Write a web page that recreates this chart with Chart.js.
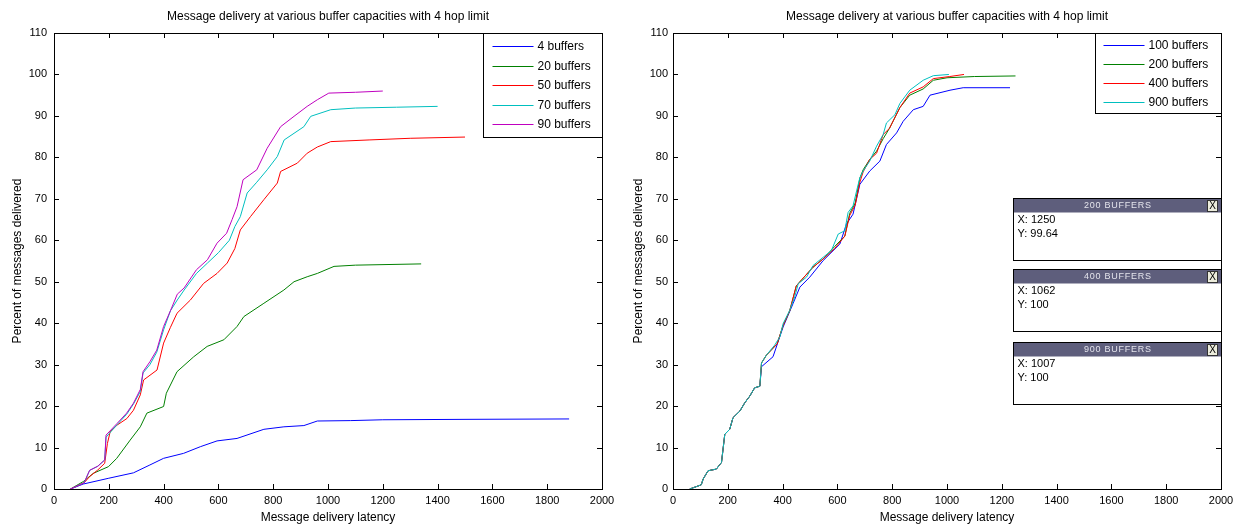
<!DOCTYPE html>
<html>
<head>
<meta charset="utf-8">
<script src="https://cdn.jsdelivr.net/npm/chart.js@4.4.1/dist/chart.umd.min.js"></script>
<style>
  body { margin: 0; background: #fff; }
  .panel { position: absolute; top: 0; width: 624px; height: 528px; }
</style>
</head>
<body>
<div class="panel" style="left:0"><canvas id="left" width="624" height="528"></canvas></div>
<div class="panel" style="left:624px"><canvas id="right" width="624" height="528"></canvas></div>
<script>
const chartTitle = 'Message delivery at various buffer capacities with 4 hop limit';
const xTitle = 'Message delivery latency';
const yTitle = 'Percent of messages delivered';
const xTicks = [0, 200, 400, 600, 800, 1000, 1200, 1400, 1600, 1800, 2000];
const yTicks = [0, 10, 20, 30, 40, 50, 60, 70, 80, 90, 100, 110];

// left panel: 4 / 20 / 50 / 70 / 90 buffers
const leftLabels = ['4 buffers', '20 buffers', '50 buffers', '70 buffers', '90 buffers'];
const leftColors = ['#0000ff', '#008000', '#ff0000', '#00bfbf', '#bf00bf'];

const lat4 = [60, 107, 200, 290, 350, 400, 473, 534, 595, 668, 766, 839, 912, 961, 1083, 1200, 1500, 1880];
const pct4 = [0, 1.2, 2.6, 3.9, 5.8, 7.4, 8.6, 10.2, 11.6, 12.2, 14.4, 15, 15.3, 16.4, 16.5, 16.7, 16.8, 16.9];

const lat20 = [60, 107, 144, 199, 229, 278, 315, 339, 400, 410, 449, 510, 559, 620, 668, 693, 766, 839, 876, 924, 961, 1022, 1100, 1340];
const pct20 = [0, 1.8, 3.8, 5.4, 7.4, 11.8, 15, 18.3, 19.9, 23.1, 28.3, 31.9, 34.4, 36, 39.2, 41.6, 44.8, 48, 50, 51.2, 52, 53.7, 54, 54.3];

const lat50 = [60, 110, 130, 160, 185, 195, 205, 230, 266, 290, 315, 327, 376, 400, 425, 449, 498, 546, 595, 632, 660, 680, 717, 766, 815, 827, 888, 924, 961, 1010, 1150, 1300, 1500];
const pct50 = [0, 1.5, 3, 4.6, 6.2, 11, 13.8, 15.4, 17, 19, 22.7, 26.3, 28.7, 35.2, 39, 42.4, 45.6, 49.6, 52, 54.5, 58, 62.5, 65.7, 69.8, 73.8, 76.6, 78.6, 81, 82.5, 83.8, 84.2, 84.6, 84.9];

const lat70 = [60, 110, 130, 160, 185, 190, 230, 265, 290, 315, 325, 350, 375, 400, 425, 450, 475, 520, 560, 600, 640, 660, 680, 705, 740, 778, 815, 840, 912, 937, 1010, 1100, 1250, 1400];
const pct70 = [0, 1.5, 4.5, 5.5, 7, 12.5, 15.5, 18, 20.5, 23.5, 28, 30, 33, 38.4, 43, 45.6, 48, 52, 54.5, 57, 60, 63.3, 65.7, 71.4, 74, 77, 80.2, 84.2, 87.4, 89.9, 91.5, 91.9, 92.1, 92.3];

const lat90 = [60, 110, 130, 160, 185, 190, 230, 265, 290, 315, 325, 350, 375, 400, 425, 450, 475, 520, 560, 595, 630, 650, 668, 690, 740, 778, 827, 876, 924, 961, 1003, 1100, 1200];
const pct90 = [0, 1.5, 4.5, 5.5, 7, 13, 15.8, 18.3, 20.7, 24, 28.3, 30.7, 33.5, 39.2, 43, 47, 48.5, 52.9, 55.3, 59.3, 61.7, 65, 68.1, 74.6, 77, 82.2, 87.4, 89.9, 92.3, 93.9, 95.5, 95.7, 96];

// right panel: 100 / 200 / 400 / 900 buffers
const rightLabels = ['100 buffers', '200 buffers', '400 buffers', '900 buffers'];
const rightColors = ['#0000ff', '#008000', '#ff0000', '#00bfbf'];

const lat100 = [61, 103, 110, 128, 158, 177, 189, 207, 219, 244, 262, 280, 298, 317, 323, 365, 402, 438, 463, 499, 548, 609, 633, 657, 682, 718, 755, 779, 816, 840, 877, 913, 938, 1011, 1059, 1230];
const pct100 = [0, 1, 2.4, 4.4, 4.8, 6.4, 13.2, 14.4, 17.2, 18.8, 20.8, 22.4, 24.4, 24.8, 29.5, 31.9, 39.1, 44.7, 48.7, 51.1, 55.1, 59.1, 63.9, 66.3, 73.5, 76.7, 79.1, 83.1, 85.9, 88.7, 91.5, 92.3, 95, 96.2, 96.8, 96.8];

const lat200 = [61, 103, 110, 128, 158, 177, 189, 207, 219, 244, 262, 280, 298, 317, 323, 341, 380, 402, 426, 450, 470, 511, 548, 590, 627, 645, 665, 682, 694, 718, 743, 767, 790, 828, 864, 913, 950, 1000, 1100, 1250];
const pct200 = [0, 1, 2.4, 4.4, 4.8, 6.4, 13.2, 14.4, 17.2, 18.8, 20.8, 22.4, 24.4, 24.8, 30.4, 32.3, 35, 39.5, 43, 49, 50.5, 53.5, 55.5, 58.5, 61, 66.5, 69, 75, 77, 79.5, 81.5, 84.5, 87, 92, 95, 96.5, 98.6, 99.2, 99.5, 99.64];

const lat400 = [61, 103, 110, 128, 158, 177, 189, 207, 219, 244, 262, 280, 298, 317, 323, 341, 380, 402, 426, 450, 470, 511, 548, 590, 627, 645, 665, 682, 694, 718, 743, 767, 790, 828, 864, 913, 950, 1010, 1062];
const pct400 = [0, 1, 2.4, 4.4, 4.8, 6.4, 13.2, 14.4, 17.2, 18.8, 20.8, 22.4, 24.4, 24.8, 30.4, 32.3, 35, 39.5, 43, 49, 50.5, 53.5, 55.5, 58, 61, 66, 68.5, 74, 76.5, 79.5, 81, 85.5, 87, 92, 95.5, 97, 99, 99.5, 100];

const lat900 = [61, 103, 110, 128, 158, 177, 189, 207, 219, 244, 262, 280, 298, 317, 323, 341, 371, 390, 402, 426, 444, 457, 487, 511, 548, 578, 603, 627, 639, 657, 670, 682, 694, 718, 743, 767, 779, 810, 828, 864, 913, 950, 1007];
const pct900 = [0, 1, 2.4, 4.4, 4.8, 6.4, 13.2, 14.4, 17.2, 18.8, 20.8, 22.4, 24.4, 24.8, 30.4, 32.3, 34.7, 36.7, 39.9, 43.1, 46.3, 49.5, 51.1, 53.9, 55.9, 57.5, 61.5, 62.3, 66.7, 68.3, 71.9, 75.1, 76.7, 79.1, 82.7, 85.5, 88.3, 90.3, 93, 96.2, 98.6, 99.7, 100];

const FONT = 'Liberation Sans, Arial, Helvetica, sans-serif';

function pts(xs, ys) {
    return xs.map((v, i) => ({ x: v, y: ys[i] }));
}

function series(labels, colors, lats, pcts) {
    return labels.map((label, i) => ({
        label: label,
        data: pts(lats[i], pcts[i]),
        borderColor: colors[i],
        backgroundColor: colors[i],
        borderWidth: 1,
        pointRadius: 0,
        tension: 0,
        fill: false,
        order: -i   // later series drawn on top, like plot() with hold on
    }));
}

// title centred over the axes box, MATLAB style box with inward ticks
const matlabAxes = {
    id: 'matlabAxes',
    afterDatasetsDraw(chart) {
        const { ctx, chartArea: a, scales: { x, y } } = chart;
        ctx.save();
        ctx.strokeStyle = '#000';
        ctx.lineWidth = 1;
        ctx.beginPath();
        xTicks.forEach(v => {
            const px = Math.round(x.getPixelForValue(v)) + 0.5;
            ctx.moveTo(px, a.bottom); ctx.lineTo(px, a.bottom - 5);
            ctx.moveTo(px, a.top); ctx.lineTo(px, a.top + 5);
        });
        yTicks.forEach(v => {
            const py = Math.round(y.getPixelForValue(v)) + 0.5;
            ctx.moveTo(a.left, py); ctx.lineTo(a.left + 5, py);
            ctx.moveTo(a.right, py); ctx.lineTo(a.right - 5, py);
        });
        ctx.stroke();
        ctx.strokeRect(Math.round(a.left) + 0.5, Math.round(a.top) + 0.5, Math.round(a.width), Math.round(a.height));
        ctx.fillStyle = '#000';
        ctx.font = '12px ' + FONT;
        ctx.textAlign = 'center';
        ctx.textBaseline = 'middle';
        ctx.fillText(chartTitle, (a.left + a.right) / 2, 17);
        ctx.restore();
    }
};

// legend box inside the top right corner of the axes
const boxLegend = {
    id: 'boxLegend',
    afterDraw(chart, args, opts) {
        const { ctx, chartArea: a } = chart;
        const sets = chart.data.datasets;
        const left = Math.round(a.right - opts.width) + 0.5;
        const top = Math.round(a.top) + 0.5;
        ctx.save();
        ctx.fillStyle = '#fff';
        ctx.fillRect(left, top, opts.width, opts.height);
        ctx.strokeStyle = '#000';
        ctx.lineWidth = 1;
        ctx.strokeRect(left, top, opts.width, opts.height);
        ctx.font = '12px ' + FONT;
        ctx.textBaseline = 'middle';
        ctx.textAlign = 'left';
        sets.forEach((ds, i) => {
            const cy = Math.round(a.top + opts.first + i * opts.row) + 0.5;
            ctx.strokeStyle = ds.borderColor;
            ctx.beginPath();
            ctx.moveTo(left + opts.lineFrom, cy);
            ctx.lineTo(left + opts.lineTo, cy);
            ctx.stroke();
            ctx.fillStyle = '#000';
            ctx.fillText(ds.label, left + opts.textAt, cy);
        });
        ctx.restore();
    }
};

// data tip boxes showing the last point of a series
const dataTips = {
    id: 'dataTips',
    afterDraw(chart, args, opts) {
        if (!opts.tips) return;
        const { ctx } = chart;
        ctx.save();
        opts.tips.forEach(tip => {
            const ds = chart.data.datasets[tip.series];
            const last = ds.data[ds.data.length - 1];
            const l = opts.left + 0.5, t = tip.top + 0.5, w = opts.width, h = opts.height;
            ctx.fillStyle = '#fff';
            ctx.fillRect(l, t, w, h);
            ctx.fillStyle = 'rgb(94,94,124)';
            ctx.fillRect(l, t, w, 14);
            ctx.strokeStyle = '#000';
            ctx.lineWidth = 1;
            ctx.strokeRect(l, t, w, h);
            ctx.fillStyle = '#e4e4ec';
            ctx.font = '9px ' + FONT;
            ctx.textAlign = 'center';
            ctx.textBaseline = 'middle';
            ctx.fillText(ds.label.toUpperCase().split('').join(String.fromCharCode(8202)), l + w / 2, t + 7.5);
            // close button
            ctx.fillStyle = '#ececdc';
            ctx.fillRect(l + w - 14, t + 2, 10, 11);
            ctx.strokeStyle = '#333';
            ctx.strokeRect(l + w - 14, t + 2, 10, 11);
            ctx.fillStyle = '#000';
            ctx.font = '10px ' + FONT;
            ctx.fillText('X', l + w - 9, t + 8);
            ctx.textAlign = 'left';
            ctx.font = '11px ' + FONT;
            ctx.fillText('X: ' + last.x, l + 4, t + 21);
            ctx.fillText('Y: ' + last.y, l + 4, t + 35);
        });
        ctx.restore();
    }
};

function makeChart(id, datasets, cfg) {
    return new Chart(document.getElementById(id), {
        type: 'line',
        data: { datasets: datasets },
        options: {
            responsive: false,
            animation: false,
            layout: { padding: { top: 33, right: cfg.padRight, bottom: 0, left: 0 } },
            plugins: {
                legend: { display: false },
                tooltip: { enabled: false },
                title: { display: false },
                boxLegend: cfg.legend,
                dataTips: cfg.tips || {}
            },
            scales: {
                x: {
                    type: 'linear',
                    min: 0,
                    max: 2000,
                    afterBuildTicks: s => { s.ticks = xTicks.map(v => ({ value: v })); },
                    afterFit: s => { s.height = 39; },
                    grid: { display: false, drawTicks: false },
                    border: { display: false },
                    ticks: { color: '#000', font: { family: FONT, size: 11 }, padding: 5, maxRotation: 0, autoSkip: false, callback: v => String(v) },
                    title: { display: true, text: xTitle, color: '#000', font: { family: FONT, size: 12 }, padding: { top: 0, bottom: 3 } }
                },
                y: {
                    type: 'linear',
                    min: 0,
                    max: 110,
                    afterBuildTicks: s => { s.ticks = yTicks.map(v => ({ value: v })); },
                    afterFit: s => { s.width = cfg.yWidth; },
                    grid: { display: false, drawTicks: false },
                    border: { display: false },
                    ticks: { color: '#000', font: { family: FONT, size: 11 }, padding: cfg.yTickPad, autoSkip: false, callback: v => String(v) },
                    title: { display: true, text: yTitle, color: '#000', font: { family: FONT, size: 12 }, padding: { top: cfg.yTitlePad, bottom: 0 } }
                }
            }
        },
        plugins: [matlabAxes, boxLegend, dataTips]
    });
}

makeChart('left',
    series(leftLabels, leftColors, [lat4, lat20, lat50, lat70, lat90], [pct4, pct20, pct50, pct70, pct90]),
    {
        padRight: 22, yWidth: 54, yTickPad: 7, yTitlePad: 10,
        legend: { width: 119, height: 104, first: 13, row: 19.6, lineFrom: 9, lineTo: 50, textAt: 54 }
    });

makeChart('right',
    series(rightLabels, rightColors, [lat100, lat200, lat400, lat900], [pct100, pct200, pct400, pct900]),
    {
        padRight: 27, yWidth: 49, yTickPad: 5, yTitlePad: 7,
        legend: { width: 126, height: 80, first: 12, row: 18.9, lineFrom: 8, lineTo: 49, textAt: 53 },
        tips: {
            left: 389, width: 208, height: 62,
            tips: [{ series: 1, top: 198 }, { series: 2, top: 269 }, { series: 3, top: 342 }]
        }
    });
</script>
</body>
</html>
